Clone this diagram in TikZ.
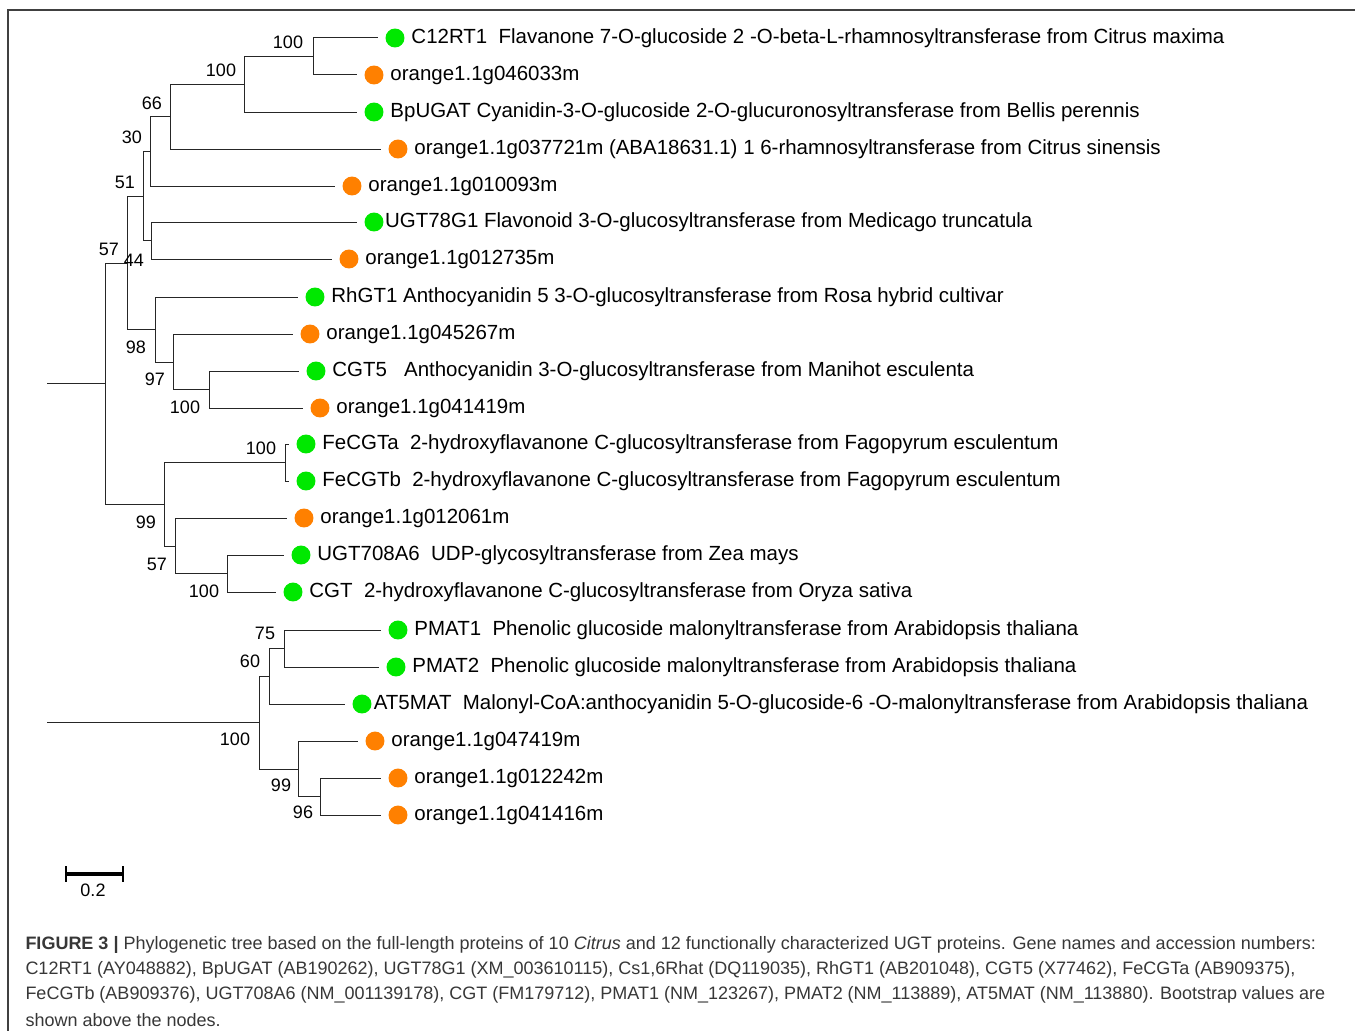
\documentclass[tikz,border=0pt]{standalone}
\usepackage{fontspec}
\setmainfont{Liberation Sans}
\usetikzlibrary{positioning}
\definecolor{dotgreen}{RGB}{0,232,0}
\definecolor{dotorange}{RGB}{255,128,0}
\definecolor{capgray}{RGB}{55,55,55}
\tikzset{every picture/.style={line width=0.75pt}}

\begin{document}
\begin{tikzpicture}[x=0.75pt,y=0.75pt,yscale=-1,xscale=1,
  gdot/.style={circle,fill=dotgreen,inner sep=0pt,minimum size=14.2pt},
  odot/.style={circle,fill=dotorange,inner sep=0pt,minimum size=14.2pt},
  leaftext/.style={inner sep=0pt,font=\fontsize{15.35}{18}\selectfont},
  boot/.style={inner sep=0pt,font=\fontsize{13.5}{16}\selectfont},
  branch/.style={draw=black!85},
  tipbranch/.style={draw=black!85,shorten >=5.6pt},
  capline/.style={anchor=west,inner sep=0pt,text=capgray,font=\fontsize{13.5}{16}\selectfont}]
\useasboundingbox (0,0) rectangle (1355,1031);
%Frame
\coordinate (frameTL) at (8,10);
\coordinate (frameTR) at (1355,10);
\coordinate (frameBL) at (8,1031);
\draw [color=black!75, line width=1.1pt] (frameTR) -- (frameTL) -- (frameBL);

%Leaves: dots
\node [gdot] (c12rt1) at (395,38) {};
\node [odot] (o046033) at (374,75) {};
\node [gdot] (bpugat) at (374,112) {};
\node [odot] (o037721) at (398,149) {};
\node [odot] (o010093) at (352,186) {};
\node [gdot] (ugt78g1) at (374,222) {};
\node [odot] (o012735) at (349,259) {};
\node [gdot] (rhgt1) at (315,297) {};
\node [odot] (o045267) at (310,334) {};
\node [gdot] (cgt5) at (316,371) {};
\node [odot] (o041419) at (320,408) {};
\node [gdot] (fecgta) at (306,444) {};
\node [gdot] (fecgtb) at (306,481) {};
\node [odot] (o012061) at (304,518) {};
\node [gdot] (ugt708a6) at (301,555) {};
\node [gdot] (cgt) at (293,592) {};
\node [gdot] (pmat1) at (398,630) {};
\node [gdot] (pmat2) at (396,667) {};
\node [gdot] (at5mat) at (362,704) {};
\node [odot] (o047419) at (375,741) {};
\node [odot] (o012242) at (398,778) {};
\node [odot] (o041416) at (398,815) {};

%Leaves: names
\node [leaftext, right=4.5pt of c12rt1] (c12rt1txt) {C12RT1\ \ Flavanone 7-O-glucoside 2 -O-beta-L-rhamnosyltransferase from Citrus maxima};
\node [leaftext, right=4.5pt of o046033] (o046033txt) {orange1.1g046033m};
\node [leaftext, right=4.5pt of bpugat] (bpugattxt) {BpUGAT Cyanidin-3-O-glucoside 2-O-glucuronosyltransferase from Bellis perennis};
\node [leaftext, right=4.5pt of o037721] (o037721txt) {orange1.1g037721m (ABA18631.1) 1 6-rhamnosyltransferase from Citrus sinensis};
\node [leaftext, right=4.5pt of o010093] (o010093txt) {orange1.1g010093m};
\node [leaftext, right=0.5pt of ugt78g1] (ugt78g1txt) {UGT78G1 Flavonoid 3-O-glucosyltransferase from Medicago truncatula};
\node [leaftext, right=4.5pt of o012735] (o012735txt) {orange1.1g012735m};
\node [leaftext, right=4.5pt of rhgt1] (rhgt1txt) {RhGT1 Anthocyanidin 5 3-O-glucosyltransferase from Rosa hybrid cultivar};
\node [leaftext, right=4.5pt of o045267] (o045267txt) {orange1.1g045267m};
\node [leaftext, right=4.5pt of cgt5] (cgt5txt) {CGT5\ \ \ Anthocyanidin 3-O-glucosyltransferase from Manihot esculenta};
\node [leaftext, right=4.5pt of o041419] (o041419txt) {orange1.1g041419m};
\node [leaftext, right=4.5pt of fecgta] (fecgtatxt) {FeCGTa\ \ 2-hydroxyflavanone C-glucosyltransferase from Fagopyrum esculentum};
\node [leaftext, right=4.5pt of fecgtb] (fecgtbtxt) {FeCGTb\ \ 2-hydroxyflavanone C-glucosyltransferase from Fagopyrum esculentum};
\node [leaftext, right=4.5pt of o012061] (o012061txt) {orange1.1g012061m};
\node [leaftext, right=4.5pt of ugt708a6] (ugt708a6txt) {UGT708A6\ \ UDP-glycosyltransferase from Zea mays};
\node [leaftext, right=4.5pt of cgt] (cgttxt) {CGT\ \ 2-hydroxyflavanone C-glucosyltransferase from Oryza sativa};
\node [leaftext, right=4.5pt of pmat1] (pmat1txt) {PMAT1\ \ Phenolic glucoside malonyltransferase from Arabidopsis thaliana};
\node [leaftext, right=4.5pt of pmat2] (pmat2txt) {PMAT2\ \ Phenolic glucoside malonyltransferase from Arabidopsis thaliana};
\node [leaftext, right=1pt of at5mat] (at5mattxt) {AT5MAT\ \ Malonyl-CoA:anthocyanidin 5-O-glucoside-6 -O-malonyltransferase from Arabidopsis thaliana};
\node [leaftext, right=4.5pt of o047419] (o047419txt) {orange1.1g047419m};
\node [leaftext, right=4.5pt of o012242] (o012242txt) {orange1.1g012242m};
\node [leaftext, right=4.5pt of o041416] (o041416txt) {orange1.1g041416m};

%Inner nodes of the upper tree
\coordinate (nA) at (313,56.5);
\coordinate (nB) at (244,84);
\coordinate (nC) at (170,116.5);
\coordinate (nD) at (150,151);
\coordinate (nE) at (151,240.5);
\coordinate (nF) at (143,196);
\coordinate (nI) at (209,389.5);
\coordinate (nH) at (173,362);
\coordinate (nG) at (155,329.5);
\coordinate (nJ) at (127,263);
\coordinate (nK) at (285,462.5);
\coordinate (nM) at (227,573.5);
\coordinate (nL) at (175,546);
\coordinate (nN) at (164,504);
\coordinate (rootA) at (105,383.5);
\coordinate (stubA) at (47,383.5);
%Inner nodes of the lower tree
\coordinate (nP) at (284,648.5);
\coordinate (nQ) at (269,676);
\coordinate (nS) at (320,796.5);
\coordinate (nR) at (298,769);
\coordinate (rootB) at (259,722.5);
\coordinate (stubB) at (47,722.5);

%Branches
\draw [tipbranch] (nA) |- (c12rt1);
\draw [tipbranch] (nA) |- (o046033);
\draw [branch] (nB) |- (nA);
\draw [tipbranch] (nB) |- (bpugat);
\draw [branch] (nC) |- (nB);
\draw [tipbranch] (nC) |- (o037721);
\draw [branch] (nD) |- (nC);
\draw [tipbranch] (nD) |- (o010093);
\draw [tipbranch] (nE) |- (ugt78g1);
\draw [tipbranch] (nE) |- (o012735);
\draw [branch] (nF) |- (nD);
\draw [branch] (nF) |- (nE);
\draw [tipbranch] (nI) |- (cgt5);
\draw [tipbranch] (nI) |- (o041419);
\draw [tipbranch] (nH) |- (o045267);
\draw [branch] (nH) |- (nI);
\draw [tipbranch] (nG) |- (rhgt1);
\draw [branch] (nG) |- (nH);
\draw [branch] (nJ) |- (nF);
\draw [branch] (nJ) |- (nG);
\draw [tipbranch] (nK) |- (fecgta);
\draw [tipbranch] (nK) |- (fecgtb);
\draw [tipbranch] (nM) |- (ugt708a6);
\draw [tipbranch] (nM) |- (cgt);
\draw [tipbranch] (nL) |- (o012061);
\draw [branch] (nL) |- (nM);
\draw [branch] (nN) |- (nK);
\draw [branch] (nN) |- (nL);
\draw [branch] (rootA) |- (nJ);
\draw [branch] (rootA) |- (nN);
\draw [branch] (stubA) -- (rootA);
\draw [tipbranch] (nP) |- (pmat1);
\draw [tipbranch] (nP) |- (pmat2);
\draw [branch] (nQ) |- (nP);
\draw [tipbranch] (nQ) |- (at5mat);
\draw [tipbranch] (nS) |- (o012242);
\draw [tipbranch] (nS) |- (o041416);
\draw [tipbranch] (nR) |- (o047419);
\draw [branch] (nR) |- (nS);
\draw [branch] (rootB) |- (nQ);
\draw [branch] (rootB) |- (nR);
\draw [branch] (stubB) -- (rootB);

%Bootstrap values
\node [boot] (bA) at (288,42) {100};
\node [boot] (bB) at (221,70) {100};
\node [boot] (bC) at (152,103) {66};
\node [boot] (bD) at (132,137) {30};
\node [boot] (bF) at (125,182) {51};
\node [boot] (bJ) at (109,249) {57};
\node [boot] (bE) at (134,260) {44};
\node [boot] (bG) at (136,347) {98};
\node [boot] (bH) at (155,379) {97};
\node [boot] (bI) at (185,407) {100};
\node [boot] (bK) at (261,448) {100};
\node [boot] (bN) at (146,522) {99};
\node [boot] (bL) at (157,564) {57};
\node [boot] (bM) at (204,591) {100};
\node [boot] (bP) at (265,633) {75};
\node [boot] (bQ) at (250,661) {60};
\node [boot] (bRoot) at (235,739) {100};
\node [boot] (bR) at (281,785) {99};
\node [boot] (bS) at (303,812) {96};

%Scale bar
\coordinate (barL) at (66,874);
\coordinate (barR) at (123,874);
\draw [line width=2.4pt] (barL) -- (barR);
\draw [line width=1.8pt] ([yshift=-6]barL) -- ([yshift=6]barL);
\draw [line width=1.8pt] ([yshift=-6]barR) -- ([yshift=6]barR);
\node [boot] (barlbl) at (93,890) {0.2};

% Text Node
\node [capline] (cap1) at (25,945) {\textbf{FIGURE 3 |} Phylogenetic tree based on the full-length proteins of 10 \textit{Citrus} and 12 functionally characterized UGT proteins. Gene names and accession numbers:};
\node [capline] (cap2) at (25,970) {C12RT1 (AY048882), BpUGAT (AB190262), UGT78G1 (XM\_003610115), Cs1,6Rhat (DQ119035), RhGT1 (AB201048), CGT5 (X77462), FeCGTa (AB909375),};
\node [capline] (cap3) at (25,995) {FeCGTb (AB909376), UGT708A6 (NM\_001139178), CGT (FM179712), PMAT1 (NM\_123267), PMAT2 (NM\_113889), AT5MAT (NM\_113880). Bootstrap values are};
\node [capline] (cap4) at (25,1020) {shown above the nodes.};
\end{tikzpicture}
\end{document}
